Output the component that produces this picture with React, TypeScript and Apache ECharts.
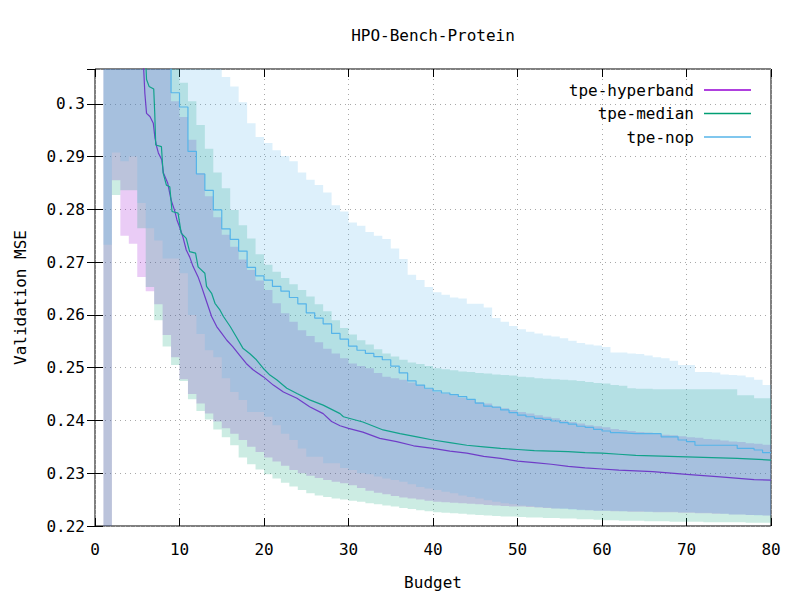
import React, { useEffect, useRef } from "react";
import * as echarts from "echarts";

const budgets = [
  1, 2, 3, 4, 5, 6, 7, 8, 9, 10, 11, 12, 13, 14, 15, 16, 17, 18, 19, 20,
  21, 22, 23, 24, 25, 26, 27, 28, 29, 30, 31, 32, 33, 34, 35, 36, 37, 38, 39, 40,
  41, 42, 43, 44, 45, 46, 47, 48, 49, 50, 51, 52, 53, 54, 55, 56, 57, 58, 59, 60,
  61, 62, 63, 64, 65, 66, 67, 68, 69, 70, 71, 72, 73, 74, 75, 76, 77, 78, 79, 80,
];

const hypUpper = [
  0.345, 0.344, 0.343, 0.342, 0.34, 0.336, 0.33, 0.32, 0.3005, 0.2975,
  0.2932, 0.2869, 0.2825, 0.2785, 0.2752, 0.2729, 0.2705, 0.2685, 0.2665, 0.2647,
  0.2622, 0.2603, 0.2587, 0.2571, 0.256, 0.2548, 0.2536, 0.2527, 0.2518, 0.2508,
  0.2503, 0.2499, 0.249, 0.2483, 0.248, 0.2477, 0.2472, 0.2467, 0.246, 0.2454,
  0.2451, 0.2448, 0.2443, 0.2439, 0.2435, 0.2432, 0.2427, 0.2423, 0.242, 0.2416,
  0.2413, 0.241, 0.2407, 0.2404, 0.24, 0.2397, 0.2394, 0.2391, 0.2389, 0.2387,
  0.2384, 0.2382, 0.238, 0.2378, 0.2377, 0.2375, 0.2373, 0.2372, 0.237, 0.2368,
  0.2367, 0.2365, 0.2364, 0.2362, 0.236, 0.2359, 0.2357, 0.2356, 0.2354, 0.2353,
];
const hypLower = [
  0.218, 0.2855, 0.275, 0.2735, 0.2672, 0.2645, 0.262, 0.2562, 0.252, 0.2478,
  0.245, 0.2432, 0.2413, 0.2398, 0.2385, 0.2375, 0.2363, 0.235, 0.234, 0.233,
  0.2322, 0.2314, 0.2306, 0.23, 0.2295, 0.2291, 0.2287, 0.2284, 0.2281, 0.2277,
  0.2272, 0.2267, 0.2263, 0.226, 0.2257, 0.2254, 0.2252, 0.225, 0.2248, 0.2246,
  0.2245, 0.2244, 0.2243, 0.2242, 0.2241, 0.224, 0.2239, 0.2238, 0.2237, 0.2237,
  0.2236, 0.2235, 0.2234, 0.2233, 0.2233, 0.2232, 0.2231, 0.223, 0.2229, 0.2229,
  0.2228, 0.2228, 0.2227, 0.2227, 0.2227, 0.2226, 0.2226, 0.2226, 0.2225, 0.2225,
  0.2224, 0.2224, 0.2223, 0.2223, 0.2222, 0.2222, 0.2221, 0.2221, 0.222, 0.222,
];
const medUpper = [
  0.345, 0.344, 0.343, 0.342, 0.34, 0.336, 0.33, 0.322, 0.308, 0.304,
  0.3005, 0.296, 0.2915, 0.287, 0.284, 0.2799, 0.277, 0.2745, 0.2715, 0.2695,
  0.2682, 0.267, 0.2658, 0.2647, 0.2635, 0.262, 0.2607, 0.259, 0.2575, 0.2563,
  0.2552, 0.2544, 0.2535, 0.2527, 0.2521, 0.2515, 0.251, 0.2507, 0.2503, 0.2499,
  0.2497, 0.2495, 0.2493, 0.2492, 0.249, 0.2489, 0.2487, 0.2486, 0.2485, 0.2483,
  0.2482, 0.248, 0.2479, 0.2478, 0.2477, 0.2476, 0.2475, 0.2473, 0.2471, 0.247,
  0.2467, 0.2466, 0.2461, 0.246, 0.246, 0.2459, 0.2459, 0.2459, 0.2459, 0.2459,
  0.2459, 0.2459, 0.2459, 0.2459, 0.2459, 0.2448, 0.2448, 0.2442, 0.2442, 0.2442,
];
const medLower = [
  0.2185, 0.2827, 0.2836, 0.2836, 0.2764, 0.2653, 0.259, 0.254, 0.2505, 0.2475,
  0.244, 0.2418, 0.2402, 0.2383, 0.2368, 0.2353, 0.233, 0.2317, 0.2307, 0.2298,
  0.229, 0.2282, 0.2275, 0.2268, 0.2262, 0.2258, 0.2255, 0.2252, 0.225, 0.2248,
  0.2246, 0.2243, 0.2241, 0.2239, 0.2237, 0.2234, 0.2232, 0.223, 0.2228, 0.2226,
  0.2225, 0.2224, 0.2223, 0.2222, 0.2221, 0.222, 0.2219, 0.2218, 0.2218, 0.2217,
  0.2216, 0.2216, 0.2215, 0.2215, 0.2214, 0.2214, 0.2213, 0.2213, 0.2212, 0.2211,
  0.2211, 0.221, 0.221, 0.221, 0.2209, 0.2209, 0.2209, 0.2208, 0.2208, 0.2208,
  0.2208, 0.2207, 0.2207, 0.2207, 0.2207, 0.2207, 0.2206, 0.2206, 0.2206, 0.2206,
];
const nopUpper = [
  0.345, 0.344, 0.343, 0.342, 0.341, 0.34, 0.338, 0.336, 0.333, 0.33,
  0.326, 0.322, 0.318, 0.312, 0.3051, 0.3033, 0.3003, 0.2963, 0.2937, 0.2926,
  0.2912, 0.2901, 0.2891, 0.287, 0.2856, 0.2846, 0.2832, 0.2808, 0.2796, 0.2775,
  0.2769, 0.2757, 0.275, 0.2744, 0.2726, 0.2706, 0.2676, 0.2666, 0.2653, 0.2643,
  0.2638, 0.2633, 0.2631, 0.2621, 0.2621, 0.2614, 0.2594, 0.2587, 0.2579, 0.2573,
  0.2568, 0.2565, 0.2561, 0.2559, 0.2556, 0.2551, 0.2547, 0.2544, 0.2542, 0.2539,
  0.2529, 0.2529, 0.2527, 0.2526, 0.2523, 0.252, 0.2518, 0.2513, 0.2505, 0.2505,
  0.2492, 0.2492, 0.2491, 0.2487, 0.2486, 0.2485, 0.2482, 0.2477, 0.2467, 0.2467,
];
const nopLower = [
  0.2733, 0.2908, 0.2891, 0.29, 0.2812, 0.2764, 0.2741, 0.2707, 0.2707, 0.2679,
  0.26, 0.2564, 0.2533, 0.252, 0.248, 0.2454, 0.2439, 0.2416, 0.2416, 0.2407,
  0.2391, 0.2375, 0.2363, 0.2347, 0.2331, 0.2331, 0.2319, 0.2319, 0.231, 0.2306,
  0.23, 0.2298, 0.2294, 0.229, 0.2287, 0.2284, 0.2279, 0.2274, 0.2271, 0.2268,
  0.2265, 0.2262, 0.2258, 0.2255, 0.2252, 0.2249, 0.2246, 0.2243, 0.2241, 0.2239,
  0.2238, 0.2236, 0.2235, 0.2233, 0.2232, 0.2231, 0.223, 0.223, 0.2229, 0.2229,
  0.2229, 0.2228, 0.2228, 0.2228, 0.2227, 0.2227, 0.2227, 0.2227, 0.2226, 0.2226,
  0.2225, 0.2225, 0.2224, 0.2223, 0.2222, 0.2222, 0.2221, 0.222, 0.222, 0.222,
];
const nopLine = [
  0.345, 0.344, 0.343, 0.342, 0.34, 0.335, 0.325, 0.315, 0.3021, 0.2994,
  0.291, 0.2867, 0.2836, 0.2799, 0.2763, 0.2743, 0.2721, 0.269, 0.2674, 0.2666,
  0.2654, 0.2645, 0.2633, 0.2621, 0.2604, 0.2594, 0.2583, 0.2565, 0.2554, 0.2541,
  0.2533, 0.2527, 0.2521, 0.2515, 0.2503, 0.249, 0.2475, 0.2467, 0.2461, 0.2456,
  0.2452, 0.2449, 0.2445, 0.244, 0.2433, 0.2427, 0.2425, 0.242, 0.2415, 0.241,
  0.2407, 0.2404, 0.2402, 0.2399, 0.2396, 0.2393, 0.2389, 0.2387, 0.2383, 0.238,
  0.2377, 0.2376, 0.2375, 0.2375, 0.2375, 0.2375, 0.2369, 0.2369, 0.2363, 0.236,
  0.2353, 0.2353, 0.2353, 0.2353, 0.2353, 0.2347, 0.2347, 0.2344, 0.2339, 0.2339,
];

const hypLine: [number, number][] = [
  [5.6, 0.312], [5.9, 0.302], [6.1, 0.2982], [6.5, 0.2976], [6.9, 0.2963], [7.1, 0.2935],
  [7.3, 0.2919], [7.5, 0.2907], [7.9, 0.2894], [8.1, 0.2869], [8.6, 0.285], [9.0, 0.2818],
  [9.4, 0.2799], [9.7, 0.278], [10.0, 0.2767], [10.4, 0.2748], [10.8, 0.2723], [11.2, 0.271],
  [11.6, 0.2692], [12.2, 0.2672], [12.6, 0.2654], [13.0, 0.2635], [13.4, 0.2616], [13.8, 0.2597],
  [14.4, 0.2578], [15.0, 0.2565], [15.6, 0.2552], [16.3, 0.254], [17.1, 0.2524], [17.9, 0.2508],
  [18.7, 0.2496], [19.9, 0.2483], [21.1, 0.2467], [22.3, 0.2454], [23.9, 0.2442], [25.4, 0.2426],
  [27.0, 0.2413], [28.0, 0.2398], [29.0, 0.239], [30, 0.2385], [31.7, 0.2378], [33.7, 0.2366],
  [35.7, 0.236], [37.7, 0.2352], [40, 0.2347], [42, 0.2342], [44, 0.2338], [46, 0.2332],
  [48, 0.2328], [50, 0.2323], [52, 0.232], [54, 0.2317], [56, 0.2313], [58, 0.231],
  [60, 0.2308], [62, 0.2306], [66, 0.2303], [70, 0.2298], [74, 0.2293], [78, 0.2288], [80, 0.2287],
];
const medLine: [number, number][] = [
  [5.9, 0.312], [6.1, 0.3046], [6.4, 0.3033], [6.95, 0.3028], [7.07, 0.2982], [7.19, 0.2922],
  [7.86, 0.2919], [8.06, 0.2869], [8.45, 0.2846], [8.85, 0.2843], [9.12, 0.2796], [9.83, 0.2793],
  [10.2, 0.2755], [10.8, 0.2745], [11.2, 0.272], [11.9, 0.2717], [12.2, 0.2691], [13.0, 0.2679],
  [13.2, 0.2654], [13.8, 0.2641], [14.2, 0.2622], [14.8, 0.2609], [15.2, 0.2597], [16.0, 0.2578],
  [16.7, 0.2559], [17.5, 0.2537], [18.3, 0.2527], [19.1, 0.2515], [19.9, 0.2499], [20.7, 0.2486],
  [21.5, 0.2477], [22.7, 0.2461], [23.9, 0.2451], [25.4, 0.2439], [27.0, 0.2429], [29.0, 0.2413],
  [29.4, 0.2407], [31.7, 0.2397], [34.1, 0.2382], [36.1, 0.2375], [38.1, 0.2369], [40, 0.2363],
  [42, 0.2358], [44, 0.2353], [46, 0.235], [48, 0.2347], [50, 0.2345], [52, 0.2343],
  [54, 0.2342], [56, 0.2341], [58, 0.2339], [60, 0.2338], [62, 0.2336], [64, 0.2334],
  [70, 0.2331], [76, 0.2328], [80, 0.2325],
];

const xTicks = { min: 0, max: 80, interval: 10 };
const yTicks = { min: 0.22, max: 0.3066, interval: 0.01 };

const FONT = "DejaVu Sans Mono";
const C_HYP = "#9400d3";
const C_MED = "#009e73";
const C_NOP = "#56b4e9";

function band(key: string, lower: number[], upper: number[], fill: string, z: number) {
  const clampY = (v: number) => Math.min(Math.max(v, yTicks.min), yTicks.max);
  return {
    name: key + "-band",
    type: "custom",
    silent: true,
    clip: true,
    z,
    data: budgets.map((x, i) => [x, lower[i], upper[i]]),
    encode: { x: 0, y: [1, 2] },
    renderItem: (params: any, api: any) => {
      if (params.dataIndex !== 0) return null;
      const n = budgets.length;
      const pts: number[][] = [];
      for (let i = 0; i < n; i++) {
        const x0 = budgets[i];
        const x1 = i + 1 < n ? budgets[i + 1] : budgets[i];
        pts.push(api.coord([x0, clampY(upper[i])]));
        pts.push(api.coord([x1, clampY(upper[i])]));
      }
      for (let i = n - 1; i >= 0; i--) {
        const x0 = budgets[i];
        const x1 = i + 1 < n ? budgets[i + 1] : budgets[i];
        pts.push(api.coord([x1, clampY(lower[i])]));
        pts.push(api.coord([x0, clampY(lower[i])]));
      }
      return {
        type: "polygon",
        shape: { points: pts },
        style: { fill, stroke: "none" },
      };
    },
  };
}

export default function App() {
  const ref = useRef<HTMLDivElement>(null);
  useEffect(() => {
    if (!ref.current) return;
    const chart = echarts.init(ref.current, undefined, { renderer: "svg" });
    const axisCommon = {
      type: "value",
      axisLine: { show: false },
      axisTick: { show: true, inside: true, length: 8, lineStyle: { color: "#000", width: 1 } },
    };
    chart.setOption({
      animation: false,
      backgroundColor: "#fff",
      textStyle: { fontFamily: FONT },
      grid: {
        left: 95,
        top: 69,
        width: 676,
        height: 457,
        show: true,
        borderColor: "#000",
        borderWidth: 1,
        backgroundColor: "transparent",
      },
      graphic: [
        {
          type: "text",
          x: 433,
          y: 35,
          style: {
            text: "HPO-Bench-Protein",
            font: `16px '${FONT}'`,
            fill: "#000",
            align: "center",
            verticalAlign: "middle",
          },
        },
      ],
      legend: {
        orient: "vertical",
        right: 44,
        top: 77,
        align: "right",
        icon: "rect",
        itemWidth: 47,
        itemHeight: 1.3,
        itemGap: 7.5,
        selectedMode: false,
        z: 20,
        data: ["tpe-hyperband", "tpe-median", "tpe-nop"],
        textStyle: { fontFamily: FONT, fontSize: 16, color: "#000", padding: [0, 5, 0, 0], lineHeight: 16 },
      },
      xAxis: [
        {
          ...axisCommon,
          ...xTicks,
          position: "bottom",
          name: "Budget",
          nameLocation: "middle",
          nameGap: 48,
          nameTextStyle: { fontFamily: FONT, fontSize: 16, color: "#000" },
          axisLabel: { color: "#000", fontFamily: FONT, fontSize: 16, margin: 15 },
          splitLine: { show: true, lineStyle: { color: "#a8a8a8", width: 1, type: [1, 4] } },
        },
        {
          ...axisCommon,
          ...xTicks,
          position: "top",
          axisLabel: { show: false },
          splitLine: { show: false },
        },
      ],
      yAxis: [
        {
          ...axisCommon,
          ...yTicks,
          position: "left",
          name: "Validation MSE",
          nameLocation: "middle",
          nameGap: 67,
          nameTextStyle: { fontFamily: FONT, fontSize: 16, color: "#000" },
          axisLabel: { color: "#000", fontFamily: FONT, fontSize: 16, margin: 10, showMaxLabel: false },
          splitLine: { show: true, lineStyle: { color: "#a8a8a8", width: 1, type: [1, 4] } },
        },
        {
          ...axisCommon,
          ...yTicks,
          position: "right",
          axisLabel: { show: false },
          splitLine: { show: false },
        },
      ],
      series: [
        band("hyp", hypLower, hypUpper, "rgba(148,0,211,0.2)", 2),
        {
          name: "tpe-hyperband",
          type: "line",
          symbol: "none",
          z: 3,
          data: hypLine,
          color: C_HYP,
          lineStyle: { width: 1.2, color: C_HYP },
        },
        band("med", medLower, medUpper, "rgba(0,158,115,0.2)", 4),
        {
          name: "tpe-median",
          type: "line",
          symbol: "none",
          z: 5,
          data: medLine,
          color: C_MED,
          lineStyle: { width: 1.2, color: C_MED },
        },
        band("nop", nopLower, nopUpper, "rgba(86,180,233,0.2)", 6),
        {
          name: "tpe-nop",
          type: "line",
          step: "end",
          symbol: "none",
          z: 7,
          data: budgets.map((x, i) => [x, nopLine[i]]),
          color: C_NOP,
          lineStyle: { width: 1.2, color: C_NOP },
        },
      ],
    });
    return () => chart.dispose();
  }, []);
  return (
    <div
      ref={ref}
      style={{ position: "absolute", left: 0, top: 0, width: 800, height: 600 }}
    />
  );
}
